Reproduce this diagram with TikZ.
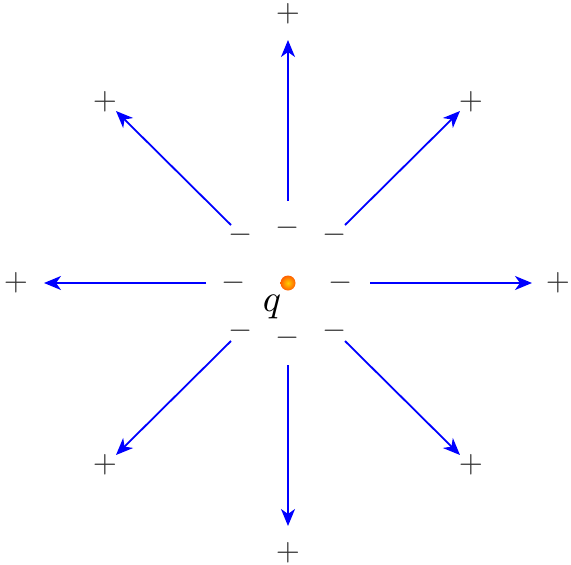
\documentclass[tikz,border=0pt]{standalone}
\usepackage{graphicx}
\usetikzlibrary{arrows.meta}
\newcommand{\bigsign}[1]{\scalebox{3.1}{$#1$}}
\begin{document}
\begin{tikzpicture}[x=1pt,y=-1pt,
  fieldline/.style={draw=blue, line width=1.8pt, -{Stealth[length=17pt,width=14pt,inset=5pt]}},
  sign/.style={text=black!80, inner sep=0pt},
]
\useasboundingbox (0,0) rectangle (571,565);
% charge
\shade[inner color=orange!40!yellow, outer color=orange!75!red] (288,283) circle (7.5);
\node[inner sep=0pt] (q) at (272,307) {\scalebox{3.8}{$q$}};
% minus signs
\foreach \n/\x/\y in {m1/234/283, m2/341/283, m3/288/228, m4/288/338, m5/241/235, m6/335/235, m7/241/331, m8/335/331}
  \node[sign] (\n) at (\x,\y) {\bigsign{-}};
% plus signs
\foreach \n/\x/\y in {p1/288/14, p2/288/553, p3/16/283, p4/558/283, p5/105/102, p6/471/102, p7/105/465, p8/471/465}
  \node[sign] (\n) at (\x,\y) {\bigsign{+}};
% line endpoints
\foreach \n/\x/\y in {s1/370/283, e1/532/283, s2/206/283, e2/44/283, s3/288/201, e3/288/40, s4/288/365, e4/288/526,
  s5/345/225, e5/460/111, s6/231/225, e6/116/111, s7/231/341, e7/116/455, s8/345/341, e8/460/455}
  \coordinate (\n) at (\x,\y);
\foreach \i in {1,...,8}
  \draw[fieldline] (s\i) -- (e\i);
\end{tikzpicture}
\end{document}
